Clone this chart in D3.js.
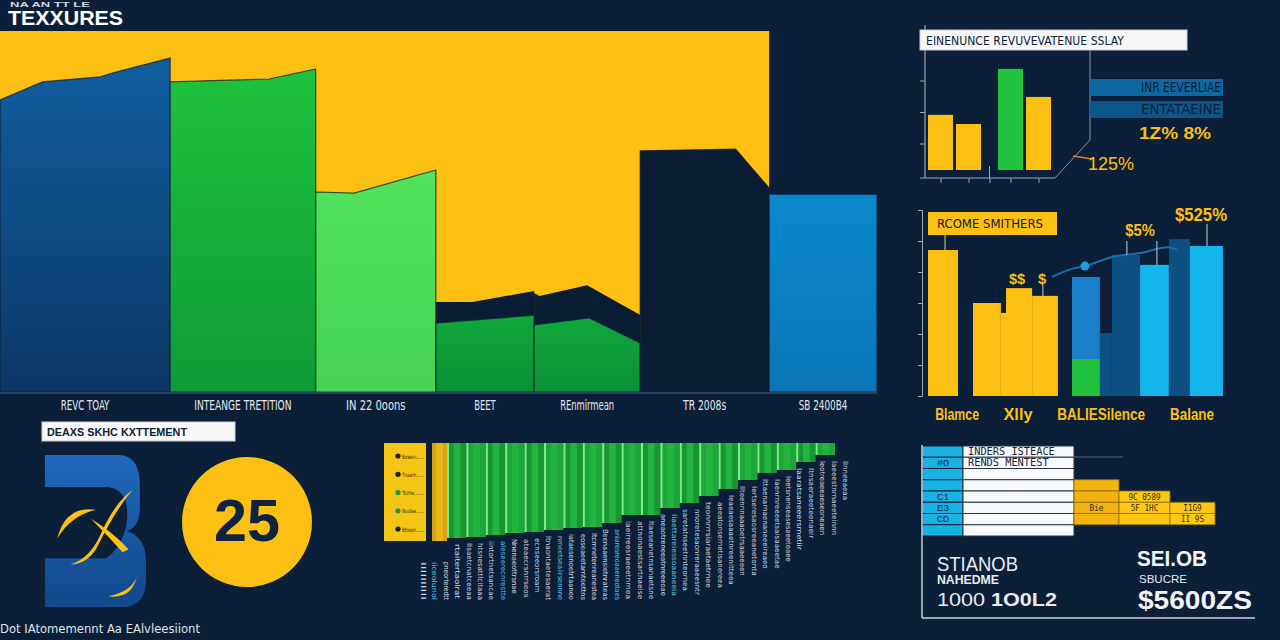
<!DOCTYPE html>
<html><head><meta charset="utf-8">
<script src="https://cdn.jsdelivr.net/npm/d3@7"></script>
<style>
html,body{margin:0;padding:0;background:#0c1f38;}
svg{display:block}
</style></head><body>
<svg id="c" width="1280" height="640"></svg>
<script>
// ================= DATA =================
// main variable-width chart
const mainTitle = "TEXXURES";
const mainSupTitle = "NA AN TT LE";
const mainCategories = ["REVC TOAY","INTEANGE TRETITION","IN 22 0oons","BEET","REnmirmean","TR 2008s","SB 2400B4"];
const mainShares = [19.4,16.6,13.7,11.2,12.1,14.7,12.3];
const mainTops = [
  [[0,80.9],[0.25,85.9],[0.59,87.3],[0.68,88.6],[1,92.5]],
  [[0,85.9],[0.68,86.7],[1,89.5]],
  [[0,55.4],[0.32,55.1],[1,61.5]],
  [[0,19.1],[1,21.3]],
  [[0,18.6],[0.52,20.5],[1,13.6]],
  [[0,66.8],[0.74,67.3],[1,56.5]],
  [[0,54.8],[1,54.8]]
];
const mainCaps = [null,null,null,
  [[0,24.9],[0.37,24.9],[1,28.0]],
  [[0,27.4],[0.05,26.6],[0.5,29.6],[1,21.3]],
  null,null];
const mainBackdropValue = 100;
const mainBackdropBars = 6;

// top-right revenue chart
const revTitle = "EINENUNCE REVUVEVATENUE SSLAY";
const revPeriods = [1,2,3.5,4.5];
const revValues = [1.75,1.46,3.21,2.32];
const revKinds = ["y","y","g","y"];
const revTicks = [1,2,3];
const revXTicks = [1,2,2.75,3.5,4.5];
const revBoxes = ["INR EEVERLIAE","ENTATAEINE"];
const revPctA = "1Z% 8%";
const revPctB = "125%";

// middle-right income chart
const incTitle = "RCOME SMITHERS";
const incStart = [0,1.5,2.43,2.6,3.47,4.8,5.73,6.13,7.07,8.03,8.73];
const incEnd   = [1,2.43,2.6,3.47,4.33,5.73,6.13,7.07,8.03,8.73,9.83];
const incValues= [4.71,3.0,2.68,3.48,3.23,3.84,2.03,4.55,4.23,5.06,4.84];
const incGreen = [0,0,0,0,0,1.19,0,0,0,0,0];
const incKinds = ["y","y","y","y","y","b","d","d","c","d","c"];
const incLine = [[4.13,3.84],[4.8,4.1],[5.23,4.19],[6.2,4.5],[7.07,4.61],[8.0,4.8],[8.3,4.71]];
const incDot = [5.23,4.19];
const incLabels = ["Blamce","Xlly","BALIESilence","Balane"];
const incLabelAt = [0.97,3.0,5.77,8.8];
const incNotes = ["$$","$","$5%","$525%"];
const incNoteAt = [[2.97,3.6],[3.8,3.6],[7.07,5.15],[9.1,5.65]];
const incNoteStems = [[0.57,4.71,5.2],[3.83,3.23,3.6],[6.63,4.55,5.0],[7.63,4.23,5.0],[9.3,4.84,5.55]];

// bottom-left
const stmtTitle = "DEAXS SKHC KXTTEMENT";
const badgeValue = "25";
const footnote = "Dot IAtomemennt Aa EAlvleesiiont";

// bottom-middle hanging bar chart
const legendItems = ["Bowers","Tnaem","Tcrre","Nsstee","Btreon"];
const legendKinds = ["d","d","g","g","d"];
const hangDepths = [95,94,92,90,89,87,85,84,80,72,72,65,60,53,46,37,30,27,19,12];
const hangLabels = ["IIIIIIIIII","iiceolunol","pneorteredtt","rtaitertaolrat","Ilsaetcnatceeaa","htsnesattlcitaaa",
 "iintortnetsancae","aleseerecnrestte","Nnenaeottrsnae","ateaecrsnrrseos","ecnseeorsroarn","ltnaontaetesaerat",
 "nmeetseaiirsennne","iataesenoetrtaaneo","eoseaeetarnteettns","Itcrnnetenreanestea","Beenaaensietnrateas",
 "aniaresreoaaeneotaes","iaeirreesraeeetnrnea","attnonaestsartnaeise","Itaeseanetnsanaetsne","aneaotreneeatnreeeoae",
 "Iiaettareiessoaaneeia","saretatnseetnnteornea","nnoretesaonreraaeesntr","teonnrrrsiaraetaetrnee","aeeatonsernetisanereea",
 "Ieaeaesaaaetnreenitteea","Ilteennnaaaoetrsaaeeeen","Iertseresaosreeanetonta","Ittaenarnaenaneeeireaeo","Iaenrnreeeetsaisaaeetae",
 "Ieetsnenseasesaeeteaee","Iaaratsaneeersrnetiir","Itnsaeraeeteenaeir","Ieotreaeeaeseoneaen","Iaeeestnrnaeeteinnn","Ilnneeaeaa"];
const hangLabelCyan = [1,7,12,17,22];

// bottom-right table
const tableHeads = ["INDERS ISTEACE","RENDS MENTEST","","","","","",""];
const tableCodes = ["","#0","","","C1","E3","CD",""];
const tableYellowFrom = [3,4,5];
const tableYellowText = [[null,null,null],[null,"9C 0589",null],[ "Bie","5F 1HC","I1G9"],[null,null,"II 9S"]];
const sumLeft = ["STIANOB","NAHEDME","1000","1O0L2"];
const sumRight = ["SEI.OB","SBUCRE","$5600ZS"];

// ================= DRAW =================
const svg = d3.select("#c");
const fN = '"Liberation Sans Narrow","DejaVu Sans Condensed","Roboto Condensed",sans-serif';
const fS = '"Liberation Sans",Arial,sans-serif';
const BG = "#0c1f38", YEL = "#fcc012", GRN = "#20c23e";
function txt(g,s,x,y,o){
  const t=g.append("text").attr("x",x).attr("y",y).text(s)
   .attr("font-family",o.ff||fN).attr("font-size",o.fs).attr("font-weight",o.fw||"normal")
   .attr("fill",o.fill).attr("text-anchor",o.anchor||"start");
  if(o.w) t.attr("textLength",o.w).attr("lengthAdjust","spacingAndGlyphs");
  return t;
}
const defs = svg.append("defs");
function grad(id,c1,c2){const g=defs.append("linearGradient").attr("id",id).attr("x1",0).attr("y1",0).attr("x2",0).attr("y2",1);
  g.append("stop").attr("offset","0%").attr("stop-color",c1);g.append("stop").attr("offset","100%").attr("stop-color",c2);}
grad("gBlue","#115fa0","#0c3664");
grad("gGreen","#1fc13d","#0d9c38");
grad("gLight","#52e35d","#46d452");
grad("gDeep","#10a83b","#0a9034");
grad("gSky","#0b88cc","#0a76b6");
grad("gLogo","#2068bb","#12488c");
svg.append("rect").attr("width",1280).attr("height",640).attr("fill",BG);

// ---------- main chart ----------
const gm = svg.append("g");
const total = d3.sum(mainShares);
const xMain = d3.scaleLinear().domain([0,total]).range([0,877]);
const yMain = d3.scaleLinear().domain([0,100]).range([392,31]);
const starts = [0, ...d3.cumsum(mainShares)];
gm.append("rect").attr("x",xMain(0)).attr("y",yMain(mainBackdropValue))
  .attr("width",xMain(starts[mainBackdropBars])-xMain(0)).attr("height",yMain(0)-yMain(mainBackdropValue)).attr("fill",YEL);
const mainFills = ["url(#gBlue)","url(#gGreen)","url(#gLight)","url(#gDeep)","url(#gDeep)","#0b1d35","url(#gSky)"];
const line = d3.line();
function poly(i,prof){
  const x0=xMain(starts[i]), x1=xMain(starts[i+1]);
  const pts=prof.map(([t,v])=>[x0+t*(x1-x0),yMain(v)]);
  pts.push([x1,yMain(0)],[x0,yMain(0)]);
  return line(pts)+"Z";
}
mainCategories.forEach((c,i)=>{
  if(mainCaps[i]) gm.append("path").attr("d",poly(i,mainCaps[i])).attr("fill","#0b1d35");
  gm.append("path").attr("d",poly(i,mainTops[i])).attr("fill",mainFills[i])
    .attr("stroke","rgba(10,28,50,0.75)").attr("stroke-width",1.2);
});
gm.append("line").attr("x1",xMain(0)).attr("x2",xMain(total)).attr("y1",yMain(0)+1).attr("y2",yMain(0)+1)
  .attr("stroke","#2f4c6c").attr("stroke-width",1.5);
mainCategories.forEach((c,i)=>{
  const cx=(xMain(starts[i])+xMain(starts[i+1]))/2;
  txt(gm,c,cx,410,{fs:14,fill:"#e2e7ee",anchor:"middle",w:c.length*5.4});
});
txt(svg,mainSupTitle,10,7,{ff:fS,fs:7,fw:"bold",fill:"#cfd7e2",w:80});
txt(svg,mainTitle,8,25,{ff:fS,fs:20,fw:"bold",fill:"#ffffff",w:115});

// ---------- top-right revenue ----------
const gr = svg.append("g");
const xRev = d3.scaleLinear().domain([0,5]).range([912.5,1052.5]);
const yRev = d3.scaleLinear().domain([0,4]).range([170,44]);
const yRevAxis = d3.scaleLinear().domain([0,4]).range([175,49]);
const kindCol = {y:YEL,g:GRN,b:"#1a7fcb",d:"#0e4f84",c:"#12b6ea"};
gr.append("line").attr("x1",925).attr("x2",925).attr("y1",25).attr("y2",178).attr("stroke","#9aa6b5").attr("stroke-width",1.2);
gr.append("line").attr("x1",920).attr("x2",1055).attr("y1",178).attr("y2",178).attr("stroke","#9aa6b5").attr("stroke-width",1.2);
const ra = gr.append("g").attr("transform","translate(925,0)").call(d3.axisLeft(yRevAxis).tickValues(revTicks).tickSize(5).tickFormat(""));
ra.select(".domain").remove(); ra.selectAll("line").attr("stroke","#9aa6b5");
const rb = gr.append("g").attr("transform","translate(0,178)").call(d3.axisBottom(xRev).tickValues(revXTicks).tickSize(5).tickFormat(""));
rb.select(".domain").remove(); rb.selectAll("line").attr("stroke","#9aa6b5");
gr.append("line").attr("x1",xRev(2.75)).attr("x2",xRev(2.75)).attr("y1",166).attr("y2",178).attr("stroke","#9aa6b5");
gr.selectAll("rect.rb").data(revValues).join("rect")
  .attr("x",(d,i)=>xRev(revPeriods[i])-12.5).attr("width",25)
  .attr("y",d=>yRev(d)).attr("height",d=>yRev(0)-yRev(d)).attr("fill",(d,i)=>kindCol[revKinds[i]]);
gr.append("rect").attr("x",920).attr("y",30).attr("width",267).attr("height",20).attr("fill","#f7f7f7").attr("stroke","#c9ced6");
txt(gr,revTitle,926,45,{fs:13,fill:"#0c1e37",w:198});
gr.append("polyline").attr("points","1055,178 1090,140 1090,50").attr("fill","none").attr("stroke","#8896a8").attr("stroke-width",1);
revBoxes.forEach((b,i)=>{
  gr.append("rect").attr("x",1090).attr("y",79+i*22).attr("width",133).attr("height",17).attr("fill",i?"#0c5689":"#0e67a0");
  txt(gr,b,1221,92+i*22,{fs:14,fill:"#0b1f3a",anchor:"end",w:80});
});
txt(gr,revPctA,1139,139,{ff:fS,fs:17,fw:"bold",fill:YEL,w:72});
gr.append("line").attr("x1",1073).attr("y1",156).attr("x2",1092).attr("y2",159).attr("stroke","#e0802a").attr("stroke-width",1.5);
txt(gr,revPctB,1088,170,{ff:fS,fs:18,fill:YEL,w:46});

// ---------- middle-right income ----------
const gi = svg.append("g");
const xInc = d3.scaleLinear().domain([0,10]).range([928,1228]);
const yInc = d3.scaleLinear().domain([0,6]).range([396,210]);
const ia = gi.append("g").attr("transform","translate(922,0)").call(d3.axisLeft(yInc).ticks(6).tickSize(4).tickFormat(""));
ia.select(".domain").attr("stroke","#9aa6b5"); ia.selectAll("line").attr("stroke","#9aa6b5");
incValues.forEach((v,i)=>{
  const x0=xInc(incStart[i]), w=xInc(incEnd[i])-x0;
  gi.append("rect").attr("x",x0).attr("width",w).attr("y",yInc(v)).attr("height",yInc(0)-yInc(v)).attr("fill",kindCol[incKinds[i]]);
  if(incGreen[i]>0) gi.append("rect").attr("x",x0).attr("width",w).attr("y",yInc(incGreen[i])).attr("height",yInc(0)-yInc(incGreen[i])).attr("fill",GRN);
});
gi.append("path").attr("d",d3.line().x(d=>xInc(d[0])).y(d=>yInc(d[1])).curve(d3.curveMonotoneX)(incLine))
  .attr("fill","none").attr("stroke","#1c6cab").attr("stroke-width",2);
gi.append("circle").attr("cx",xInc(incDot[0])).attr("cy",yInc(incDot[1])).attr("r",4.5).attr("fill","#1aa0e0");
incNoteStems.forEach(s=>gi.append("line").attr("x1",xInc(s[0])).attr("x2",xInc(s[0])).attr("y1",yInc(s[2])).attr("y2",yInc(s[1])).attr("stroke","#c8cfd8").attr("stroke-width",1));
gi.append("line").attr("x1",xInc(0.57)).attr("x2",xInc(0.57)).attr("y1",234).attr("y2",yInc(4.71)).attr("stroke","#8a7a30");
gi.append("rect").attr("x",928).attr("y",212).attr("width",129).attr("height",23).attr("fill",YEL);
txt(gi,incTitle,937,228,{fs:13,fill:"#151515",w:106});
incNotes.forEach((n,i)=>{
  const fs=[14,14,17,18][i];
  txt(gi,n,xInc(incNoteAt[i][0]),yInc(incNoteAt[i][1]),{ff:fS,fs:fs,fw:"bold",fill:YEL,anchor:"middle",w:n.length*(fs*0.58)});
});
incLabels.forEach((l,i)=>txt(gi,l,xInc(incLabelAt[i]),420,{ff:fS,fs:16,fw:"bold",fill:YEL,anchor:"middle",w:l.length*7.3}));

// ---------- bottom-left ----------
const gl = svg.append("g");
gl.append("rect").attr("x",42).attr("y",422).attr("width",193).attr("height",19).attr("fill","#f8f8f8").attr("stroke","#c9ced6");
txt(gl,stmtTitle,47,436,{ff:fS,fs:11,fw:"bold",fill:"#0c1e37",w:140});
const lx=d3.scaleLinear().domain([0,1]).range([45,147]), ly=d3.scaleLinear().domain([0,1]).range([455,607]);
const P=(pts)=>pts.map(p=>`${lx(p[0])},${ly(p[1])}`).join(" ");
gl.append("path").attr("fill","url(#gLogo)").attr("d",
  `M${P([[0,0]])} L${P([[0.72,0]])} Q${P([[0.93,0],[0.93,0.2]])} L${P([[0.93,0.36]])} Q${P([[0.92,0.48],[0.8,0.5]])} Q${P([[0.99,0.54],[0.99,0.7]])} L${P([[0.99,0.82]])} Q${P([[0.99,1],[0.75,1]])} L${P([[0,1]])} Z`);
gl.append("path").attr("fill",BG).attr("d",
  `M${P([[0,0.21]])} L${P([[0.62,0.21]])} Q${P([[0.84,0.23],[0.8,0.45]])} Q${P([[0.76,0.6],[0.6,0.68]])} L${P([[0,0.68]])} Z`);
gl.append("path").attr("fill",YEL).attr("d",
  `M${P([[0.12,0.55]])} Q${P([[0.2,0.33],[0.5,0.36]])} Q${P([[0.25,0.4],[0.12,0.55]])} Z`);
gl.append("path").attr("fill",YEL).attr("d",
  `M${P([[0.86,0.23]])} Q${P([[0.7,0.35],[0.5,0.62]])} Q${P([[0.4,0.72],[0.25,0.72]])} Q${P([[0.45,0.68],[0.56,0.5]])} Q${P([[0.7,0.3],[0.86,0.23]])} Z`);
gl.append("path").attr("fill",YEL).attr("d",
  `M${P([[0.45,0.42]])} Q${P([[0.65,0.5],[0.82,0.62]])} L${P([[0.76,0.64]])} Q${P([[0.6,0.52],[0.45,0.42]])} Z`);
gl.append("path").attr("fill",YEL).attr("d",
  `M${P([[0.62,0.93]])} Q${P([[0.85,0.9],[0.9,0.8]])} Q${P([[0.85,0.95],[0.62,0.93]])} Z`);
gl.append("circle").attr("cx",247).attr("cy",522).attr("r",65).attr("fill",YEL);
txt(gl,badgeValue,247,541,{ff:fS,fs:60,fw:"bold",fill:"#0f2340",anchor:"middle",w:66});
txt(gl,footnote,0,633,{fs:13,fill:"#dfe5ec",w:200});

// ---------- bottom-middle hanging bars ----------
const gh = svg.append("g");
const xH = d3.scaleLinear().domain([0,hangDepths.length]).range([447,835]);
const yH = d3.scaleLinear().domain([0,100]).range([443,543]);
gh.append("rect").attr("x",384).attr("y",443).attr("width",42).attr("height",98).attr("fill","#f5c516");
gh.append("rect").attr("x",432).attr("y",443).attr("width",15).attr("height",98).attr("fill","#d9a414");
gh.append("rect").attr("x",436).attr("y",443).attr("width",7).attr("height",98).attr("fill","#e9b416");
const yLeg = d3.scalePoint().domain(legendItems).range([456,529]);
legendItems.forEach((l,i)=>{
  gh.append("circle").attr("cx",398).attr("cy",yLeg(l)).attr("r",2.6).attr("fill",legendKinds[i]==="g"?"#1a9a30":"#1b1b1b");
  txt(gh,l+"......",402,yLeg(l)+2.5,{fs:6,fill:"#3a2e10",w:22});
});
hangDepths.forEach((d,i)=>{
  const x0=xH(i), w=xH(i+1)-x0;
  gh.append("rect").attr("x",x0).attr("y",yH(0)).attr("width",w).attr("height",yH(d)-yH(0)).attr("fill",i%2?"#1da63b":"#179633");
  gh.append("rect").attr("x",x0+w*0.35).attr("y",yH(0)).attr("width",w*0.35).attr("height",yH(d)-yH(0)).attr("fill","#22b340");
  gh.append("rect").attr("x",x0).attr("y",yH(0)).attr("width",2).attr("height",yH(d)-yH(0)).attr("fill","#7cec86");
});
const xL = d3.scaleLinear().domain([0,hangLabels.length-1]).range([421,843]);
hangLabels.forEach((s,i)=>{
  const x=xL(i);
  const bi=Math.max(0,Math.min(hangDepths.length-1,Math.floor(xH.invert(x))));
  const top=(x<447? yH(hangDepths[0])+24 : yH(hangDepths[bi])+6);
  gh.append("text").attr("transform",`translate(${x},${top}) rotate(90)`).text(s)
    .attr("font-family",fN).attr("font-size",7).attr("fill",hangLabelCyan.includes(i)?"#5cc3ea":"#d3dae4")
    .attr("textLength",Math.min(s.length*3.9,600-top)).attr("lengthAdjust","spacingAndGlyphs");
});

// ---------- bottom-right table ----------
const gt = svg.append("g");
const yT = d3.scaleBand().domain(d3.range(tableHeads.length)).range([446,536]);
const cols = [[922,963],[963,1074],[1074,1119],[1119,1170],[1170,1215]];
tableHeads.forEach((h,r)=>{
  const y=yT(r), hh=yT.bandwidth();
  gt.append("rect").attr("x",cols[0][0]).attr("y",y).attr("width",cols[0][1]-cols[0][0]).attr("height",hh).attr("fill","#19b3e3").attr("stroke",BG).attr("stroke-width",1);
  gt.append("rect").attr("x",cols[1][0]).attr("y",y).attr("width",cols[1][1]-cols[1][0]).attr("height",hh).attr("fill","#f8f9fa").attr("stroke","#25344a").attr("stroke-width",1);
  if(h) txt(gt,h,968,y+hh-2.5,{ff:"DejaVu Sans Mono",fs:10,fill:"#1b2438",w:h.length*6.2});
  if(tableCodes[r]) txt(gt,tableCodes[r],943,y+hh-2.5,{ff:fS,fs:9,fill:"#1b2438",anchor:"middle",w:12});
});
tableYellowFrom.forEach((r0,c)=>{
  for(let r=r0;r<=6;r++){
    const x0=cols[c+2][0], x1=cols[c+2][1];
    gt.append("rect").attr("x",x0).attr("y",yT(r)).attr("width",x1-x0).attr("height",yT.bandwidth()).attr("fill",c===0?"#f3b30f":"#fcc814").attr("stroke","#8a6a10").attr("stroke-width",0.8);
  }
});
tableYellowText.forEach((row,k)=>row.forEach((t,c)=>{
  if(t){const r=3+k; txt(gt,t,(cols[c+2][0]+cols[c+2][1])/2,yT(r)+yT.bandwidth()-2.5,{ff:"DejaVu Sans Mono",fs:8,fill:"#3a2a08",anchor:"middle",w:t.length*4.6});}
}));
gt.append("line").attr("x1",1074).attr("x2",1123).attr("y1",457).attr("y2",457).attr("stroke","#55657a");
gt.append("line").attr("x1",922).attr("x2",922).attr("y1",445).attr("y2",618).attr("stroke","#c8d0da").attr("stroke-width",1.5);
gt.append("line").attr("x1",922).attr("x2",1255).attr("y1",618).attr("y2",618).attr("stroke","#c8d0da").attr("stroke-width",1.5);
txt(gt,sumLeft[0],937,571,{ff:fS,fs:20,fill:"#e8ecf2",w:81});
txt(gt,sumLeft[1],937,584,{ff:fS,fs:12,fw:"bold",fill:"#e8ecf2",w:62});
txt(gt,sumLeft[2],937,606,{ff:fS,fs:19,fill:"#e8ecf2",w:48});
txt(gt,sumLeft[3],991,606,{ff:fS,fs:19,fw:"bold",fill:"#e8ecf2",w:66});
txt(gt,sumRight[0],1137,566,{ff:fS,fs:22,fw:"bold",fill:"#f2f4f7",w:70});
txt(gt,sumRight[1],1139,583,{ff:fS,fs:11,fill:"#e8ecf2",w:48});
txt(gt,sumRight[2],1138,609,{ff:fS,fs:26,fw:"bold",fill:"#f2f4f7",w:114});
</script>
</body></html>
